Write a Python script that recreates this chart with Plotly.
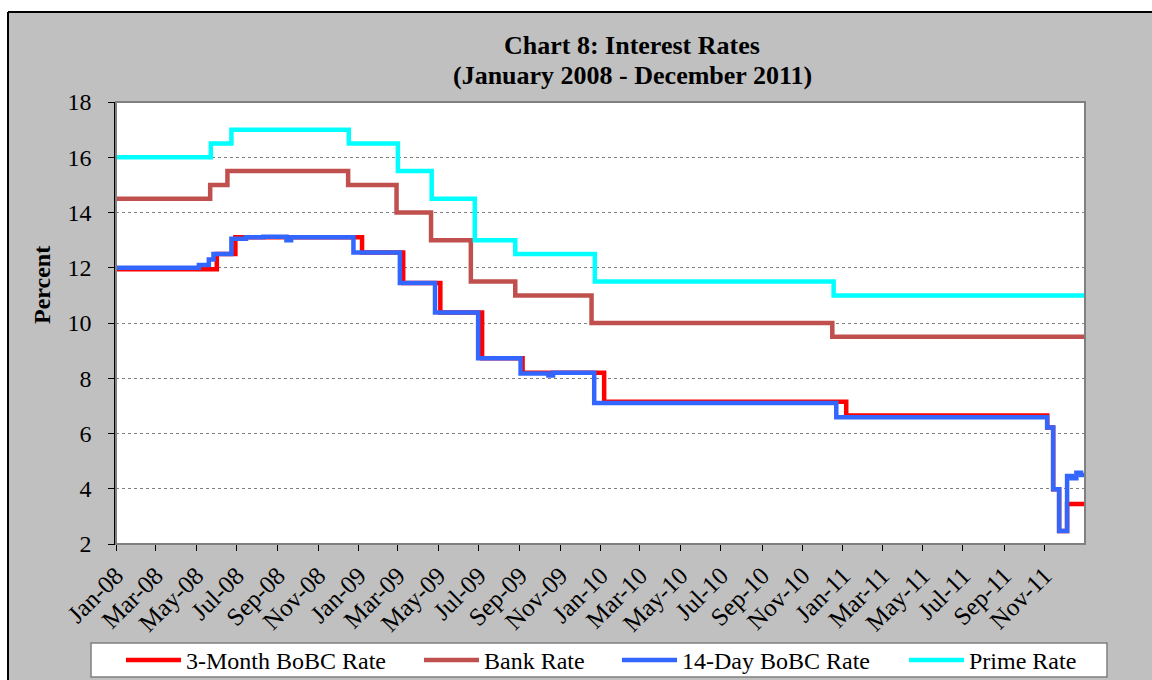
import plotly.graph_objects as go

# ---------------- data (change points of step series) ----------------
bank_dates = ["2008-01-01", "2008-05-22", "2008-06-17", "2008-12-16", "2009-02-27",
              "2009-04-20", "2009-06-19", "2009-08-25", "2009-12-18", "2010-12-16", "2011-12-31"]
bank_vals = [14.5, 15.0, 15.5, 15.0, 14.0, 13.0, 11.5, 11.0, 10.0, 9.5, 9.5]

prime_dates = ["2008-01-01", "2008-05-23", "2008-06-23", "2008-12-17", "2009-03-01",
               "2009-04-21", "2009-06-25", "2009-08-25", "2009-12-23", "2010-12-18", "2011-12-31"]
prime_vals = [16.0, 16.5, 17.0, 16.5, 15.5, 14.5, 13.0, 12.5, 11.5, 11.0, 11.0]

bobc14_dates = ["2008-01-01", "2008-05-05", "2008-05-20", "2008-05-27", "2008-06-23",
                "2008-07-15", "2008-08-10", "2008-09-14", "2008-09-21", "2008-12-24",
                "2009-03-04", "2009-04-26", "2009-06-30", "2009-09-02", "2009-10-14",
                "2009-10-21", "2009-12-22", "2010-12-22", "2011-11-05", "2011-11-14",
                "2011-11-23", "2011-12-05", "2011-12-12", "2011-12-19", "2011-12-26", "2011-12-31"]
bobc14_vals = [12.0, 12.1, 12.3, 12.5, 13.05,
               13.1, 13.12, 13.0, 13.1, 12.55,
               11.45, 10.38, 8.72, 8.17, 8.1,
               8.2, 7.1, 6.59, 6.22, 3.98,
               2.47, 4.46, 4.38, 4.58, 4.5, 4.5]

bobc3m_dates = ["2008-01-01", "2008-06-01", "2008-06-29", "2009-01-06", "2009-03-09",
                "2009-05-04", "2009-07-06", "2009-09-05", "2010-01-06", "2011-01-06",
                "2011-11-05", "2011-11-14", "2011-11-23", "2011-12-05", "2011-12-31"]
bobc3m_vals = [11.95, 12.5, 13.1, 12.55, 11.45,
               10.38, 8.72, 8.2, 7.15, 6.65,
               6.22, 3.98, 2.47, 3.45, 3.45]

tick_dates = ["2008-01-01", "2008-03-01", "2008-05-01", "2008-07-01", "2008-09-01", "2008-11-01",
              "2009-01-01", "2009-03-01", "2009-05-01", "2009-07-01", "2009-09-01", "2009-11-01",
              "2010-01-01", "2010-03-01", "2010-05-01", "2010-07-01", "2010-09-01", "2010-11-01",
              "2011-01-01", "2011-03-01", "2011-05-01", "2011-07-01", "2011-09-01", "2011-11-01"]
tick_labels = ["Jan-08", "Mar-08", "May-08", "Jul-08", "Sep-08", "Nov-08",
               "Jan-09", "Mar-09", "May-09", "Jul-09", "Sep-09", "Nov-09",
               "Jan-10", "Mar-10", "May-10", "Jul-10", "Sep-10", "Nov-10",
               "Jan-11", "Mar-11", "May-11", "Jul-11", "Sep-11", "Nov-11"]

# ---------------- layout geometry (page pixels; body margin removed) ----------------
W, H = 1152, 680
L, R, T, B = 116, 1085, 102, 544          # plot area in page pixels
FONT = "Liberation Serif, Times New Roman, serif"
GRAY = "#C0C0C0"


def fx(px):
    return (px - L) / (R - L)


def fy(py):
    return (B - py) / (B - T)


fig = go.Figure()
series = [
    ("3-Month BoBC Rate", bobc3m_dates, bobc3m_vals, "#FF0000", "legend", 121),
    ("Bank Rate", bank_dates, bank_vals, "#C0504D", "legend2", 419),
    ("14-Day BoBC Rate", bobc14_dates, bobc14_vals, "#3366FF", "legend3", 617),
    ("Prime Rate", prime_dates, prime_vals, "#00FFFF", "legend4", 904),
]
legends = {}
for name, d, v, c, lg, lx in series:
    fig.add_trace(go.Scatter(x=d, y=v, name=name, mode="lines", legend=lg,
                             line=dict(color=c, width=4.5, shape="hv")))
    legends[lg] = dict(orientation="h", x=fx(lx), xanchor="left", y=fy(638), yanchor="top",
                       bgcolor="rgba(0,0,0,0)", font=dict(family=FONT, size=24, color="black"),
                       itemwidth=55)

shapes = [
    # white page area above / left of the chart area
    dict(type="rect", xref="paper", yref="paper", x0=fx(0), x1=fx(1200), y0=fy(12), y1=fy(0),
         fillcolor="white", line=dict(width=0), layer="below"),
    dict(type="rect", xref="paper", yref="paper", x0=fx(0), x1=fx(8), y0=fy(700), y1=fy(0),
         fillcolor="white", line=dict(width=0), layer="below"),
    # chart area border (top and left)
    dict(type="line", xref="paper", yref="paper", x0=fx(8), x1=fx(1200), y0=fy(12), y1=fy(12),
         line=dict(color="black", width=2), layer="below"),
    dict(type="line", xref="paper", yref="paper", x0=fx(8), x1=fx(8), y0=fy(12), y1=fy(700),
         line=dict(color="black", width=2), layer="below"),
    # plot area
    dict(type="rect", xref="paper", yref="paper", x0=0, x1=1, y0=0, y1=1,
         fillcolor="white", line=dict(width=0), layer="below"),
    # legend box
    dict(type="rect", xref="paper", yref="paper", x0=fx(91), x1=fx(1107), y0=fy(677), y1=fy(643),
         fillcolor="white", line=dict(color="#808080", width=1.5), layer="below"),
    # plot frame
    dict(type="rect", xref="paper", yref="paper", x0=0, x1=1, y0=0, y1=1,
         fillcolor="rgba(0,0,0,0)", line=dict(color="#808080", width=2), layer="above"),
]

annotations = [
    dict(text="<b>Chart 8: Interest Rates</b>", xref="paper", yref="paper", x=fx(632), y=fy(45),
         xanchor="center", yanchor="middle", showarrow=False, font=dict(family=FONT, size=26, color="black")),
    dict(text="<b>(January 2008 - December 2011)</b>", xref="paper", yref="paper", x=fx(632), y=fy(75),
         xanchor="center", yanchor="middle", showarrow=False, font=dict(family=FONT, size=26, color="black")),
    dict(text="<b>Percent</b>", xref="paper", yref="paper", x=fx(42), y=fy(285), textangle=-90,
         xanchor="center", yanchor="middle", showarrow=False, font=dict(family=FONT, size=24, color="black")),
]

fig.update_layout(
    width=W, height=H,
    margin=dict(l=L, r=W - R, t=T, b=H - B, autoexpand=False),
    paper_bgcolor=GRAY, plot_bgcolor="white",
    font=dict(family=FONT, color="black"),
    shapes=shapes, annotations=annotations,
    showlegend=True,
    xaxis=dict(type="date", range=["2008-01-01", "2012-01-01"], tickvals=tick_dates, ticktext=tick_labels,
               tickangle=-45, tickfont=dict(family=FONT, size=25, color="black"),
               ticks="outside", ticklen=6, tickcolor="black", showgrid=False, zeroline=False,
               showline=True, linecolor="black", linewidth=1, automargin=False),
    yaxis=dict(range=[2, 18], dtick=2, tick0=2, tickfont=dict(family=FONT, size=24, color="black"),
               ticks="outside", ticklen=6, tickcolor="black", showgrid=True, gridcolor="#808080",
               griddash="dot", gridwidth=1, zeroline=False, showline=True, linecolor="black",
               linewidth=1.5, automargin=False, ticklabelstandoff=12),
    **legends,
)

fig.write_html("out.html",
               config={"displayModeBar": False},
               post_script="document.body.style.margin='0px';"
                           "document.documentElement.style.overflow='hidden';"
                           "document.body.style.overflow='hidden';")
